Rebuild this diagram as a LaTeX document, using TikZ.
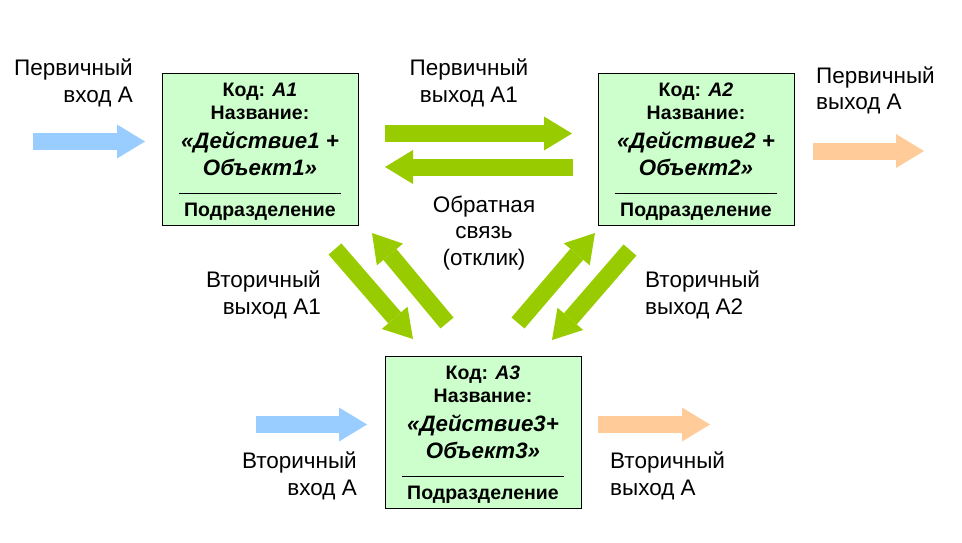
\documentclass[tikz,border=0pt]{standalone}
\usepackage{fontspec}
\setmainfont{Liberation Sans}
\usetikzlibrary{positioning,arrows.meta}
\definecolor{boxgreen}{HTML}{CCFFCC}
\definecolor{arrgreen}{HTML}{99CC00}
\definecolor{arrblue}{HTML}{99CCFF}
\definecolor{arrorange}{HTML}{FFCC99}
\tikzset{
  blok/.style={draw, fill=boxgreen, line width=0.8pt, minimum width=196pt, minimum height=152pt, inner sep=0pt},
  boxtxt/.style={font=\bfseries\fontsize{19.5}{23}\selectfont, inner sep=0pt, anchor=base},
  boxname/.style={font=\bfseries\itshape\fontsize{22.3}{27}\selectfont, inner sep=0pt, anchor=base},
  lbl/.style={font=\fontsize{22.5}{26.5}\selectfont, inner sep=0pt},
  fat/.style={line width=17pt, -{Triangle[length=28pt,width=34pt,line width=0pt]}},
}

\begin{document}
\begin{tikzpicture}[x=1pt,y=-1pt]
\useasboundingbox (0,0) rectangle (962,542);
% blocks
\foreach \n/\x/\y/\p in {1/260/149/\ +, 2/696/149/\ +, 3/483/432/+}{
  \node[blok] (a\n) at (\x,\y) {};
  \node[boxtxt] (kod\n) at ([yshift=-24pt]a\n.north) {Код: \textit{A\n}};
  \node[boxtxt] (nazv\n) at ([yshift=-47pt]a\n.north) {Название:};
  \node[boxname] (dej\n) at ([yshift=-76pt]a\n.north) {«Действие\n\p};
  \node[boxname] (obj\n) at ([yshift=-103pt]a\n.north) {Объект\n»};
  \draw[line width=0.8pt] ([xshift=-81pt,yshift=-121pt]a\n.north) -- ++(162,0);
  \node[boxtxt] (pod\n) at ([yshift=-144pt]a\n.north) {Подразделение};
}

% labels
\node[lbl, anchor=east, align=right] (pervvhod) at (133,83) {Первичный\\вход А};
\node[lbl, align=center] (pervvyh1) at (469,83) {Первичный\\выход А1};
\node[lbl, anchor=west, align=left] (pervvyh) at (816,90.5) {Первичный\\выход А};
\node[lbl, align=center] (obr) at (484,233) {Обратная\\связь\\(отклик)};
\node[lbl, anchor=east, align=right] (vtorvyh1) at (321,295) {Вторичный\\выход А1};
\node[lbl, anchor=west, align=left] (vtorvyh2) at (645,295) {Вторичный\\выход А2};
\node[lbl, anchor=east, align=right] (vtorvhod) at (357,476) {Вторичный\\вход А};
\node[lbl, anchor=west, align=left] (vtorvyh) at (610,476) {Вторичный\\выход А};

% arrow ends
\coordinate (vh1) at (33,141.5);   \coordinate (vh1e) at (145,141.5);
\coordinate (g1) at (385,133.5);   \coordinate (g1e) at (572,133.5);
\coordinate (g2) at (573,167);     \coordinate (g2e) at (385,167);
\coordinate (vy2) at (813,151);    \coordinate (vy2e) at (924,151);
\coordinate (d1) at (335,249);     \coordinate (d1e) at (413,339);
\coordinate (d2) at (447,323);     \coordinate (d2e) at (372,233);
\coordinate (d3) at (518,323);     \coordinate (d3e) at (595,233);
\coordinate (d4) at (630,250);     \coordinate (d4e) at (552,340);
\coordinate (vh3) at (256,424.5);  \coordinate (vh3e) at (367,424.5);
\coordinate (vy3) at (598,424.5);  \coordinate (vy3e) at (710,424.5);

\draw[fat, arrblue] (vh1) -- (vh1e);
\draw[fat, arrgreen] (g1) -- (g1e);
\draw[fat, arrgreen] (g2) -- (g2e);
\draw[fat, arrorange] (vy2) -- (vy2e);
\draw[fat, arrgreen] (d1) -- (d1e);
\draw[fat, arrgreen] (d2) -- (d2e);
\draw[fat, arrgreen] (d3) -- (d3e);
\draw[fat, arrgreen] (d4) -- (d4e);
\draw[fat, arrblue] (vh3) -- (vh3e);
\draw[fat, arrorange] (vy3) -- (vy3e);
\end{tikzpicture}
\end{document}
